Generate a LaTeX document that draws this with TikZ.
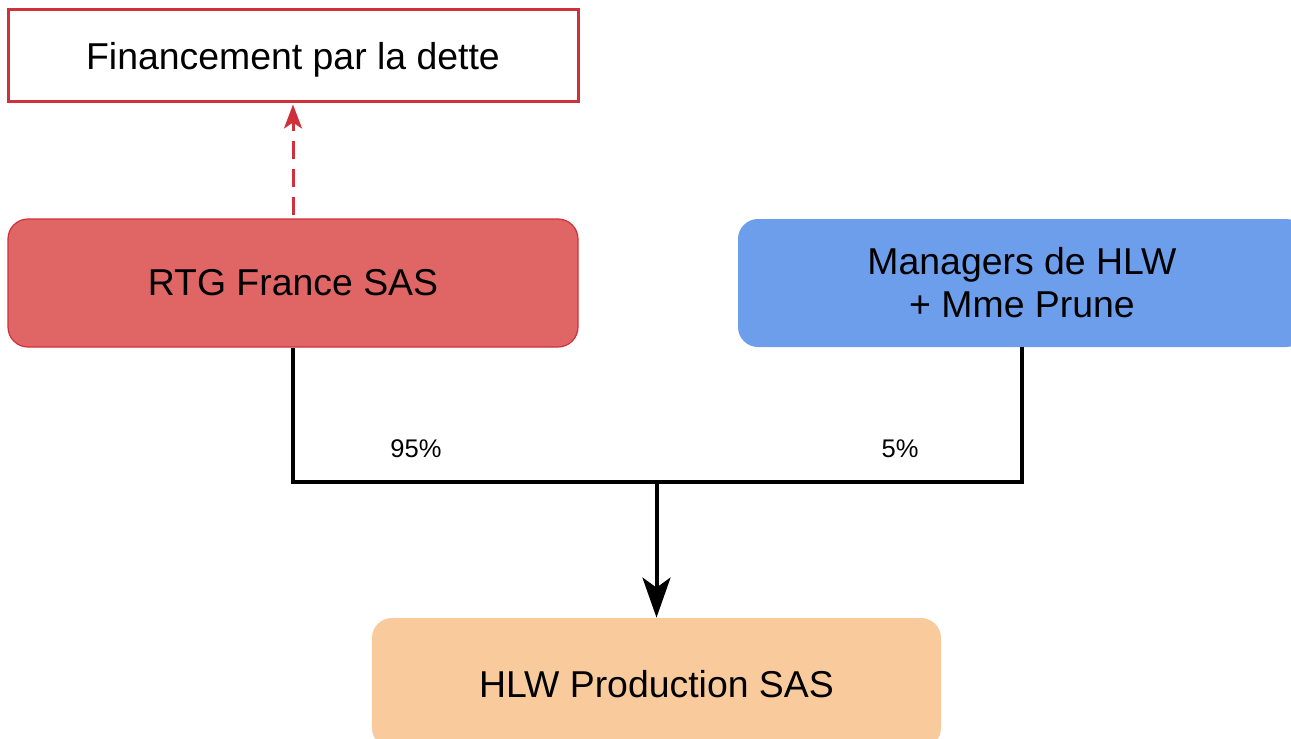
\documentclass[tikz,border=0pt]{standalone}
\usepackage{fontspec}
\setmainfont{Liberation Sans}
\usetikzlibrary{arrows.meta}
\definecolor{redfill}{HTML}{E06666}
\definecolor{redline}{HTML}{D0303A}
\definecolor{bluefill}{HTML}{6D9EEB}
\definecolor{orangefill}{HTML}{F9CB9C}
\tikzset{
  box/.style={rectangle, rounded corners=10pt, inner sep=0pt, align=center,
    font=\fontsize{18.7pt}{21.5pt}\selectfont},
  finbox/.style={rectangle, draw=redline, line width=1.5pt, fill=white, inner sep=0pt,
    font=\fontsize{18.7pt}{21.5pt}\selectfont, minimum width=285pt, minimum height=46pt},
  link/.style={line width=2pt, black},
  pct/.style={font=\fontsize{12.75pt}{15pt}\selectfont, inner sep=0pt},
  debt/.style={line width=1.5pt, redline, dash pattern=on 9pt off 5pt,
    -{Stealth[length=12pt, width=9pt, inset=3pt]}},
  down/.style={link, -{Stealth[length=20pt, width=14pt, inset=5pt]}}
}
\begin{document}
\begin{tikzpicture}[x=0.5pt, y=-0.5pt]
\clip (0,0) rectangle (1291,739);
\node[finbox] (fin) at (293,55) {};
\node[font=\fontsize{18.7pt}{21.5pt}\selectfont, inner sep=0pt, text depth=0pt] (fintext) at (293,56) {Financement par la dette};
\node[box, fill=redfill, draw=redline, line width=0.6pt, minimum width=285pt, minimum height=64pt] (rtg) at (293,283) {RTG France SAS};
\node[box, fill=bluefill, minimum width=284pt, minimum height=64pt] (mgr) at (1022,283) {Managers de HLW\\+ Mme Prune};
\node[box, fill=orangefill, minimum width=284.5pt, minimum height=65pt] (hlw) at (656.5,683) {};
\node[font=\fontsize{18.7pt}{21.5pt}\selectfont, inner sep=0pt] (hlwtext) at (656.5,684) {HLW Production SAS};
\coordinate (j) at (656.5,482);
\draw[link] (rtg.south) |- (j) -| (mgr.south);
\draw[down] (j) -- (hlw.north);
\draw[debt] ([yshift=1.5pt]rtg.north) -- ([yshift=-1pt]fin.south);
\node[pct] (p95) at (416,449) {95\%};
\node[pct] (p5) at (900,449) {5\%};
\end{tikzpicture}
\end{document}
